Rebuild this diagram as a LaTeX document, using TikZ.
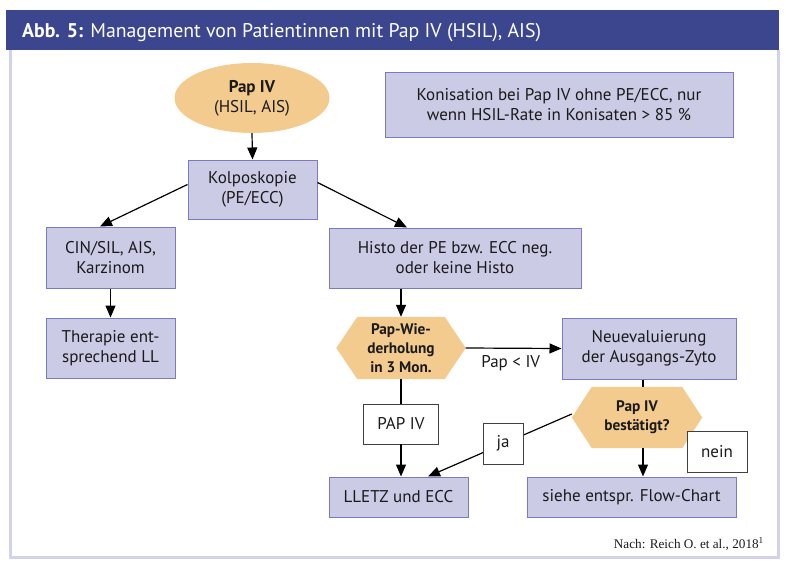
\documentclass[tikz,border=0pt]{standalone}
\usepackage{fontspec}
\setmainfont{PT Sans}
\newfontfamily\serifft{Liberation Serif}
\usetikzlibrary{arrows.meta,shapes.geometric,calc}
\pgfdeclarelayer{background}
\pgfsetlayers{background,main}
\definecolor{hdr}{HTML}{3B468F}
\definecolor{frm}{HTML}{D2D2EE}
\definecolor{boxfill}{HTML}{CCCBE6}
\definecolor{boxline}{HTML}{7A7AC0}
\definecolor{orng}{HTML}{F4CB8E}
\definecolor{txt}{HTML}{1A1A1A}
\begin{document}
\begin{tikzpicture}[x=1pt,y=-1pt,
  box/.style={draw=boxline, fill=boxfill, line width=1pt, align=center, text=txt,
    font=\fontsize{17}{20}\selectfont, inner sep=0pt},
  wbox/.style={draw=black!75, fill=white, line width=0.9pt, align=center, text=txt,
    font=\fontsize{17}{20}\selectfont, inner sep=0pt},
  hexnode/.style={align=center, text=txt, inner sep=0pt,
    font=\bfseries\fontsize{15.3}{19}\selectfont},
  ln/.style={line width=1.2pt, draw=black},
  arr/.style={ln, -{Triangle[length=12pt,width=10pt]}},
  lbl/.style={text=txt, font=\fontsize{17}{20}\selectfont}
]
\useasboundingbox (0,0) rectangle (786,567);
% header and frame
\fill[hdr] (6,10) rectangle (779,50);
\draw[frm, line width=3pt] (10.5,50) -- (10.5,557.5) -- (778,557.5) -- (778,50);
\node[anchor=base west, text=white, inner sep=0pt, font=\fontsize{19.8}{22}\selectfont] (title) at (22,38)
  {\textbf{Abb. 5:} Management von Patientinnen mit Pap IV (HSIL), AIS)};
\node[anchor=base east, inner sep=0pt, text=txt, font=\serifft\fontsize{13.2}{15}\selectfont] (src) at (764,548)
  {Nach: Reich O. et al., 2018\textsuperscript{1}};

% nodes
\node[ellipse, fill=orng, minimum width=155pt, minimum height=70pt, inner sep=0pt, align=center, text=txt,
  font=\fontsize{17}{20}\selectfont] (pap) at (252,98) {\textbf{Pap IV}\\(HSIL, AIS)};
\node[box, minimum width=129pt, minimum height=59pt] (kolpo) at (252.5,189.5) {Kolposkopie\\(PE/ECC)};
\node[box, minimum width=348pt, minimum height=64pt] (kon) at (559,105) {Konisation bei Pap IV ohne PE/ECC, nur\\wenn HSIL-Rate in Konisaten > 85 \%};
\node[box, minimum width=129pt, minimum height=61pt] (cin) at (110.5,257.5) {CIN/SIL, AIS,\\Karzinom};
\node[box, minimum width=129pt, minimum height=60pt] (ther) at (110.5,348) {Therapie ent-\\sprechend LL};
\node[box, minimum width=252pt, minimum height=60pt] (histo) at (455,258) {Histo der PE bzw. ECC neg.\\oder keine Histo};
\node[hexnode, minimum width=129pt, minimum height=62pt] (hx1) at (401,348) {Pap-Wie-\\derholung\\in 3 Mon.};
\node[box, minimum width=174pt, minimum height=61pt] (neu) at (649,348.5) {Neuevaluierung\\der Ausgangs-Zyto};
\node[hexnode, minimum width=130pt, minimum height=61pt] (hx2) at (637,417.5) {Pap IV\\bestätigt?};
\node[box, minimum width=139pt, minimum height=40pt] (lletz) at (398.5,497) {LLETZ und ECC};
\node[box, minimum width=209pt, minimum height=40pt] (siehe) at (631.5,497) {siehe entspr. Flow-Chart};

\begin{pgfonlayer}{background}
\fill[orng] (hx1.west) -- ([xshift=21pt]hx1.north west) -- ([xshift=-21pt]hx1.north east) -- (hx1.east)
  -- ([xshift=-21pt]hx1.south east) -- ([xshift=21pt]hx1.south west) -- cycle;
\fill[orng] (hx2.west) -- ([xshift=20pt]hx2.north west) -- ([xshift=-20pt]hx2.north east) -- (hx2.east)
  -- ([xshift=-20pt]hx2.south east) -- ([xshift=20pt]hx2.south west) -- cycle;
\end{pgfonlayer}

% connectors
\draw[arr] (pap.south) -- (kolpo.north);
\draw[arr] ([yshift=5pt]kolpo.west) -- ([xshift=-10.5pt]cin.north);
\draw[arr] ([yshift=7pt]kolpo.east) -- ([xshift=-48pt]histo.north);
\draw[arr] (cin.south) -- (ther.north);
\draw[arr] (hx1.north |- histo.south) -- (hx1.north);
\draw[arr] (hx1.east) -- node[lbl, below=3pt, pos=0.47] (lt) {Pap < IV} (neu.west);
\draw[ln] ([xshift=-6pt]neu.south) -- ([xshift=6pt]hx2.north);
\draw[arr] ([xshift=6pt]hx2.south) -- ([xshift=11.5pt]siehe.north);
\coordinate (lt2) at ([xshift=29.5pt]lletz.north);
\draw[arr] ([yshift=3.5pt]hx2.west) -- (lt2);
\node[wbox, minimum width=75pt, minimum height=40pt] (papiv) at (401,424) {PAP IV};
\draw[ln] (hx1.south) -- (papiv.north);
\draw[arr] (papiv.south) -- (papiv.south |- lletz.north);
\node[wbox, minimum width=40pt, minimum height=41pt] (ja) at (503,443.5) {ja};
\node[wbox, minimum width=60pt, minimum height=41pt] (nein) at (717,451.5) {nein};
\end{tikzpicture}
\end{document}
